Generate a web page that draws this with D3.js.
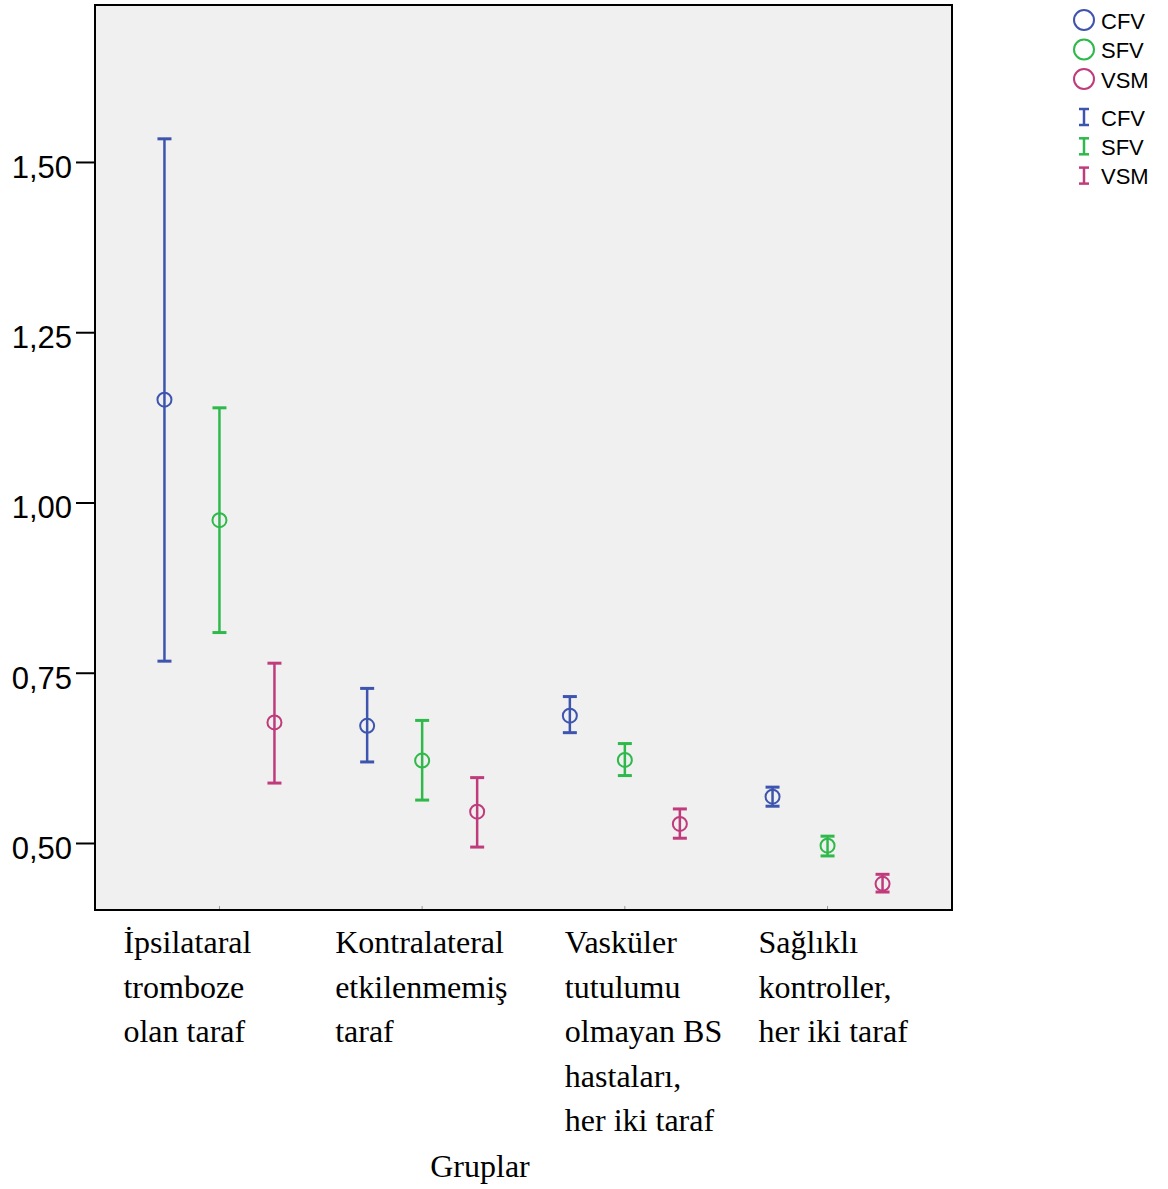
<!DOCTYPE html>
<html>
<head>
<meta charset="utf-8">
<script src="https://cdn.jsdelivr.net/npm/d3@7"></script>
<style>
html, body { margin: 0; padding: 0; background: #fff; }
svg { display: block; }
</style>
</head>
<body>
<div id="chart"></div>
<script>
// categories (x axis), series
var groups = [
	["İpsilataral", "tromboze", "olan taraf"],
	["Kontralateral", "etkilenmemiş", "taraf"],
	["Vasküler", "tutulumu", "olmayan BS", "hastaları,", "her iki taraf"],
	["Sağlıklı", "kontroller,", "her iki taraf"]
]
var series = ["CFV", "SFV", "VSM"]
var colors = ["#3d55ae", "#2eb94a", "#c03b7c"]
var means = [
	[1.151, 0.974, 0.677],
	[0.672, 0.621, 0.546],
	[0.687, 0.622, 0.528],
	[0.568, 0.496, 0.440]
]
var lower = [
	[0.767, 0.809, 0.588],
	[0.619, 0.563, 0.494],
	[0.662, 0.599, 0.507],
	[0.554, 0.481, 0.428]
]
var upper = [
	[1.534, 1.139, 0.764],
	[0.727, 0.680, 0.596],
	[0.715, 0.646, 0.550],
	[0.582, 0.510, 0.454]
]
var yTicks = [0.50, 0.75, 1.00, 1.25, 1.50]
var xTitle = "Gruplar"

var width = 1168, height = 1189
var plot = {left: 95, right: 952, top: 5, bottom: 910}
var labelOffset = [-96, -87, -60, -69] // left edge of each wrapped label block vs. its category

var svg = d3.select("#chart").append("svg")
	.attr("width", width).attr("height", height)

var x = d3.scalePoint()
	.domain(d3.range(groups.length))
	.range([plot.left, plot.right])
	.padding(0.614)
var dx = d3.scalePoint()
	.domain(series)
	.range([-55, 55])
var y = d3.scaleLinear()
	.domain([0.4016, 1.7305])
	.range([plot.bottom, plot.top])

svg.append("rect")
	.attr("x", plot.left).attr("y", plot.top)
	.attr("width", plot.right - plot.left).attr("height", plot.bottom - plot.top)
	.attr("fill", "#f0f0f0")

// small grey category ticks inside the frame
svg.append("g").selectAll("line")
	.data(d3.range(groups.length))
	.enter().append("line")
	.attr("x1", function(d){ return x(d) }).attr("x2", function(d){ return x(d) })
	.attr("y1", plot.bottom).attr("y2", plot.bottom - 4)
	.attr("stroke", "#999").attr("stroke-width", 1)

// y axis
var yAxis = d3.axisLeft(y)
	.tickValues(yTicks)
	.tickSize(19)
	.tickPadding(4)
	.tickFormat(function(d){ return d3.format(".2f")(d).replace(".", ",") })
var ya = svg.append("g")
	.attr("transform", "translate(" + plot.left + ",0)")
	.call(yAxis)
ya.select(".domain").remove()
ya.selectAll(".tick line").attr("stroke", "#000").attr("stroke-width", 2)
ya.selectAll(".tick text")
	.attr("font-family", "Liberation Sans, Arial, sans-serif")
	.attr("font-size", 31).attr("fill", "#000")
	.attr("dy", "0.5em")

// error bars and means
var rows = []
means.forEach(function(m, gi){
	m.forEach(function(v, si){
		rows.push({g: gi, s: series[si], c: colors[si], m: v, lo: lower[gi][si], hi: upper[gi][si]})
	})
})
var marks = svg.append("g").selectAll("g")
	.data(rows).enter().append("g")
	.attr("transform", function(d){ return "translate(" + (x(d.g) + dx(d.s)) + ",0)" })
marks.append("line")
	.attr("y1", function(d){ return y(d.lo) }).attr("y2", function(d){ return y(d.hi) })
	.attr("stroke", function(d){ return d.c }).attr("stroke-width", 2.5)
marks.selectAll("line.cap")
	.data(function(d){ return [{v: d.lo, c: d.c}, {v: d.hi, c: d.c}] })
	.enter().append("line").attr("class", "cap")
	.attr("x1", -7).attr("x2", 7)
	.attr("y1", function(d){ return y(d.v) }).attr("y2", function(d){ return y(d.v) })
	.attr("stroke", function(d){ return d.c }).attr("stroke-width", 3)
marks.append("circle")
	.attr("cy", function(d){ return y(d.m) }).attr("r", 7)
	.attr("fill", "none")
	.attr("stroke", function(d){ return d.c }).attr("stroke-width", 2)

// frame
svg.append("rect")
	.attr("x", plot.left).attr("y", plot.top)
	.attr("width", plot.right - plot.left).attr("height", plot.bottom - plot.top)
	.attr("fill", "none").attr("stroke", "#000").attr("stroke-width", 2)

// category labels
var lab = svg.append("g").selectAll("text")
	.data(groups).enter().append("text")
	.attr("font-family", "Liberation Serif, Times New Roman, serif")
	.attr("font-size", 32).attr("fill", "#000")
	.attr("y", 953)
lab.selectAll("tspan")
	.data(function(d, i){ return d.map(function(t){ return {t: t, g: i} }) })
	.enter().append("tspan")
	.attr("x", function(d){ return x(d.g) + labelOffset[d.g] })
	.attr("dy", function(d, i){ return i ? 44.5 : 0 })
	.text(function(d){ return d.t })

svg.append("text")
	.attr("x", 480).attr("y", 1177)
	.attr("text-anchor", "middle")
	.attr("font-family", "Liberation Serif, Times New Roman, serif")
	.attr("font-size", 32).attr("fill", "#000")
	.text(xTitle)

// legend
var leg = svg.append("g")
	.attr("font-family", "Liberation Sans, Arial, sans-serif")
	.attr("font-size", 22).attr("fill", "#000")
series.forEach(function(s, i){
	var cy = 20 + i * 29.5
	leg.append("circle").attr("cx", 1084).attr("cy", cy).attr("r", 10)
		.attr("fill", "none").attr("stroke", colors[i]).attr("stroke-width", 2)
	leg.append("text").attr("x", 1101).attr("y", cy).attr("dy", "0.4em").text(s)
	var by = 117 + i * 29.3
	var eb = leg.append("g").attr("stroke", colors[i])
	eb.append("line").attr("x1", 1084).attr("x2", 1084).attr("y1", by - 8).attr("y2", by + 8).attr("stroke-width", 2.5)
	eb.append("line").attr("x1", 1079).attr("x2", 1089).attr("y1", by - 8).attr("y2", by - 8).attr("stroke-width", 2.5)
	eb.append("line").attr("x1", 1079).attr("x2", 1089).attr("y1", by + 8).attr("y2", by + 8).attr("stroke-width", 2.5)
	leg.append("text").attr("x", 1101).attr("y", by).attr("dy", "0.4em").text(s)
})
</script>
</body>
</html>
